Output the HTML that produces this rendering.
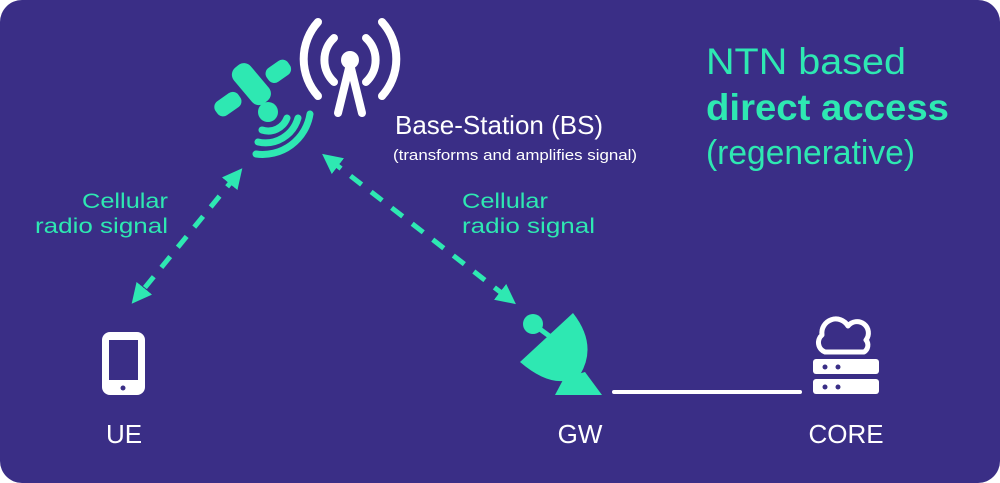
<!DOCTYPE html>
<html><head><meta charset="utf-8"><style>
html,body{margin:0;padding:0;background:#fff;}
svg{display:block}
text{font-family:"Liberation Sans",sans-serif;}
</style></head><body>
<svg width="1000" height="483" viewBox="0 0 1000 483">
<defs>
<marker id="ah" viewBox="0 0 10 10" refX="5" refY="5" markerWidth="4" markerHeight="4" orient="auto-start-reverse">
<path d="M0,0 L10,5 L0,10 z" fill="#2ee8b2"/></marker>
</defs>
<rect x="0" y="0" width="1000" height="483" rx="22" fill="#3a2e86"/>
<!-- satellite -->
<g fill="#2ee8b2">
<rect x="240" y="62" width="22" height="46" rx="9" transform="rotate(-40 250 84)"/>
<rect x="266" y="62" width="26" height="17" rx="7" transform="rotate(-35 280 72)"/>
<rect x="214" y="95" width="28" height="17" rx="7" transform="rotate(-35 229 104)"/>
<circle cx="268" cy="112" r="10"/>
</g>
<g fill="none" stroke="#2ee8b2" stroke-width="7" stroke-linecap="round">
<path d="M262,130 A20,20 0 0 0 287,118"/>
<path d="M258,142 A34,34 0 0 0 298,118"/>
<path d="M256,154 A48,48 0 0 0 310,114"/>
</g>
<!-- tower -->
<g fill="none" stroke="#fff" stroke-width="8" stroke-linecap="round">
<path d="M318,22 A55,55 0 0 0 318,96"/>
<path d="M334,38 A30,30 0 0 0 334,82"/>
<path d="M382,22 A55,55 0 0 1 382,96"/>
<path d="M366,38 A30,30 0 0 1 366,82"/>
<path d="M350,64 L338,113 M350,64 L362,113"/>
</g>
<circle cx="350" cy="60" r="9" fill="#fff"/>
<text x="395" y="134" font-size="26" fill="#fff">Base-Station (BS)</text>
<text x="393" y="160" font-size="14.5" fill="#fff" textLength="244" lengthAdjust="spacingAndGlyphs">(transforms and amplifies signal)</text>
<text x="706" y="74" font-size="37" fill="#2ee8b2" textLength="200" lengthAdjust="spacingAndGlyphs">NTN based</text>
<text x="706" y="120" font-size="37" font-weight="bold" fill="#2ee8b2" textLength="243" lengthAdjust="spacingAndGlyphs">direct access</text>
<text x="706" y="164" font-size="34" fill="#2ee8b2" textLength="209" lengthAdjust="spacingAndGlyphs">(regenerative)</text>
<!-- arrows -->
<g stroke="#2ee8b2" stroke-width="5" stroke-dasharray="14,12" fill="none">
<line x1="236" y1="176" x2="138" y2="296" marker-start="url(#ah)" marker-end="url(#ah)"/>
<line x1="330" y1="160" x2="508" y2="298" marker-start="url(#ah)" marker-end="url(#ah)"/>
</g>
<text x="82" y="208" font-size="21" fill="#2ee8b2" textLength="86" lengthAdjust="spacingAndGlyphs">Cellular</text>
<text x="35" y="233" font-size="21" fill="#2ee8b2" textLength="133" lengthAdjust="spacingAndGlyphs">radio signal</text>
<text x="462" y="208" font-size="21" fill="#2ee8b2" textLength="86" lengthAdjust="spacingAndGlyphs">Cellular</text>
<text x="462" y="233" font-size="21" fill="#2ee8b2" textLength="133" lengthAdjust="spacingAndGlyphs">radio signal</text>
<!-- phone -->
<rect x="102" y="332" width="43" height="63" rx="8" fill="#fff"/>
<rect x="109" y="340" width="29" height="40" fill="#3a2e86"/>
<circle cx="123" cy="388" r="2.5" fill="#3a2e86"/>
<text x="124" y="443" font-size="26" fill="#fff" text-anchor="middle">UE</text>
<!-- dish -->
<g fill="#2ee8b2">
<path d="M573,313 Q598,345 580,375 Q555,392 520,362 Z"/>
<path d="M564,378 L585,372 L602,395 L555,395 Z"/>
<circle cx="533" cy="324" r="10"/>
<line x1="533" y1="324" x2="552" y2="338" stroke="#2ee8b2" stroke-width="5"/>
</g>
<text x="580" y="443" font-size="26" fill="#fff" text-anchor="middle">GW</text>
<line x1="614" y1="392" x2="800" y2="392" stroke="#fff" stroke-width="4" stroke-linecap="round"/>
<!-- core -->
<path d="M825,352 A10,10 0 0 1 822,335 A14,14 0 0 1 848,326 A11,11 0 0 1 866,340 A8,8 0 0 1 864,352 Z" fill="none" stroke="#fff" stroke-width="5" stroke-linejoin="round"/>
<rect x="813" y="359" width="66" height="15" rx="3" fill="#fff"/>
<rect x="813" y="379" width="66" height="15" rx="3" fill="#fff"/>
<g fill="#3a2e86"><circle cx="825" cy="367" r="2.5"/><circle cx="838" cy="367" r="2.5"/><circle cx="825" cy="387" r="2.5"/><circle cx="838" cy="387" r="2.5"/></g>
<text x="846" y="443" font-size="26" fill="#fff" text-anchor="middle">CORE</text>
</svg>
</body></html>
